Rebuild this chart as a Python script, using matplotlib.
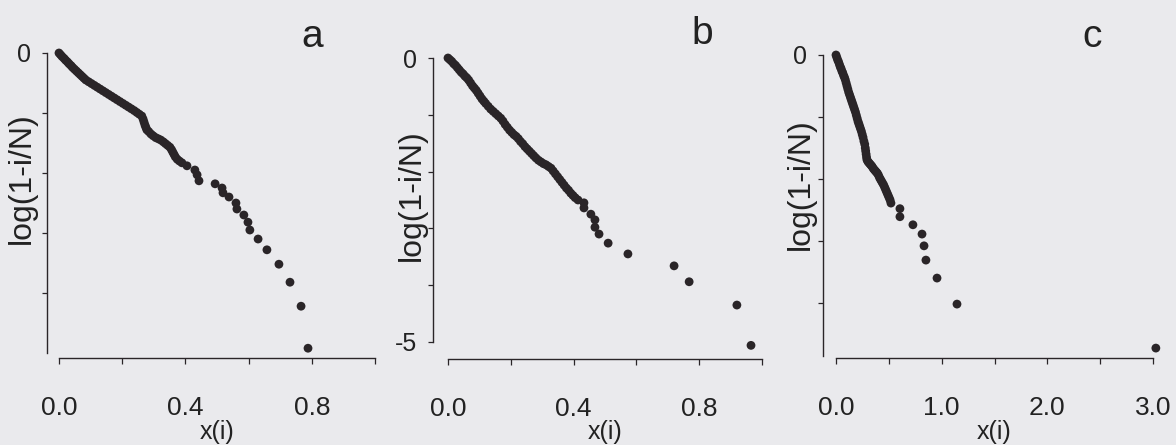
import matplotlib
matplotlib.use("Agg")
import matplotlib.pyplot as plt
import numpy as np

plt.rcParams['font.family'] = ['Liberation Sans', 'DejaVu Sans']

# panel a: x(i) and log(1-i/N)
x_a = [0.000, 0.005, 0.010, 0.016, 0.021, 0.027, 0.032, 0.038, 0.043, 0.049,
       0.055, 0.061, 0.067, 0.073, 0.079, 0.085,
       0.094, 0.103, 0.112, 0.121, 0.130, 0.139, 0.148, 0.157, 0.166, 0.175,
       0.184, 0.193, 0.202, 0.211, 0.220, 0.229, 0.238, 0.246, 0.254, 0.262,
       0.266, 0.269, 0.272, 0.275, 0.278,
       0.284, 0.291, 0.298, 0.306, 0.314, 0.322, 0.330, 0.337, 0.344, 0.351,
       0.356, 0.360, 0.364, 0.368, 0.374, 0.381,
       0.389, 0.405, 0.430, 0.437, 0.443, 0.494, 0.516, 0.519, 0.538, 0.560,
       0.563, 0.585, 0.598, 0.604, 0.630, 0.658, 0.696, 0.731, 0.766, 0.788]
y_a = [0.00, -0.03, -0.06, -0.09, -0.12, -0.15, -0.18, -0.21, -0.24, -0.27,
       -0.30, -0.33, -0.36, -0.39, -0.42, -0.45,
       -0.48, -0.51, -0.54, -0.57, -0.60, -0.63, -0.66, -0.69, -0.72, -0.75,
       -0.78, -0.81, -0.84, -0.87, -0.90, -0.93, -0.96, -0.99, -1.02, -1.05,
       -1.10, -1.15, -1.20, -1.24, -1.28,
       -1.31, -1.35, -1.38, -1.41, -1.43, -1.45, -1.48, -1.51, -1.54, -1.57,
       -1.61, -1.65, -1.69, -1.73, -1.77, -1.80,
       -1.83, -1.88, -1.95, -2.03, -2.13, -2.18, -2.25, -2.33, -2.40, -2.50,
       -2.60, -2.70, -2.82, -2.95, -3.10, -3.28, -3.52, -3.82, -4.22, -4.92]

# panel b
x_b = [0.000, 0.006, 0.012, 0.018, 0.024, 0.030, 0.036, 0.042, 0.048, 0.054,
       0.060, 0.066, 0.072, 0.078, 0.084, 0.090, 0.096, 0.102, 0.108, 0.114,
       0.120, 0.128, 0.136, 0.144, 0.152, 0.160, 0.168, 0.175, 0.182, 0.189,
       0.196, 0.203, 0.210, 0.217, 0.224, 0.231, 0.238, 0.245, 0.252, 0.259,
       0.266, 0.273, 0.280, 0.288, 0.296, 0.304, 0.312, 0.320, 0.328, 0.335,
       0.342, 0.349, 0.356, 0.363, 0.370, 0.377, 0.384, 0.391, 0.398, 0.405,
       0.414, 0.433, 0.433, 0.455, 0.468, 0.468, 0.481, 0.510, 0.573, 0.720,
       0.768, 0.920, 0.965]
y_b = [0.00, -0.03, -0.06, -0.10, -0.13, -0.17, -0.21, -0.25, -0.28, -0.32,
       -0.35, -0.39, -0.44, -0.49, -0.53, -0.57, -0.62, -0.67, -0.72, -0.76,
       -0.80, -0.85, -0.90, -0.94, -0.98, -1.02, -1.06, -1.11, -1.17, -1.22,
       -1.27, -1.31, -1.35, -1.38, -1.42, -1.47, -1.51, -1.56, -1.60, -1.64,
       -1.68, -1.72, -1.76, -1.80, -1.83, -1.86, -1.88, -1.91, -1.94, -1.99,
       -2.04, -2.09, -2.14, -2.19, -2.24, -2.29, -2.33, -2.38, -2.42, -2.46,
       -2.50, -2.55, -2.64, -2.75, -2.85, -2.98, -3.10, -3.26, -3.45, -3.66,
       -3.94, -4.35, -5.06]

# panel c
x_c = [0.000, 0.008, 0.016, 0.024, 0.032, 0.040, 0.048, 0.056, 0.064, 0.072,
       0.080, 0.088, 0.096, 0.104, 0.112, 0.120, 0.128, 0.136, 0.144, 0.152,
       0.160, 0.168, 0.176, 0.184, 0.192, 0.200, 0.208, 0.216, 0.224, 0.232,
       0.240, 0.248, 0.256, 0.264, 0.272, 0.277, 0.281, 0.285, 0.289, 0.293,
       0.302, 0.312, 0.322, 0.332, 0.342, 0.352, 0.362, 0.372, 0.382, 0.392,
       0.402, 0.412, 0.422, 0.432, 0.442, 0.452, 0.462, 0.472, 0.482, 0.492,
       0.502, 0.512, 0.520,
       0.605, 0.605, 0.728, 0.814, 0.833, 0.851, 0.956, 1.145, 3.027]
y_c = [0.00, -0.04, -0.08, -0.11, -0.15, -0.19, -0.22, -0.26, -0.29, -0.33,
       -0.36, -0.40, -0.45, -0.50, -0.55, -0.60, -0.64, -0.68, -0.72, -0.76,
       -0.80, -0.84, -0.88, -0.92, -0.97, -1.02, -1.07, -1.11, -1.15, -1.19,
       -1.23, -1.28, -1.33, -1.39, -1.44, -1.50, -1.55, -1.60, -1.65, -1.69,
       -1.72, -1.74, -1.76, -1.78, -1.80, -1.83, -1.85, -1.87, -1.89, -1.91,
       -1.94, -1.98, -2.01, -2.04, -2.07, -2.10, -2.14, -2.18, -2.22, -2.26,
       -2.30, -2.34, -2.39,
       -2.48, -2.61, -2.74, -2.89, -3.08, -3.31, -3.60, -4.02, -4.73]

letters = ['a', 'b', 'c']
xtick_vals = [[0, 0.2, 0.4, 0.6, 0.8, 1.0],
              [0, 0.2, 0.4, 0.6, 0.8, 1.0],
              [0, 0.5, 1.0, 1.5, 2.0, 2.5, 3.0]]
xtick_text = [['0.0', '', '0.4', '', '0.8', ''],
              ['0.0', '', '0.4', '', '0.8', ''],
              ['0.0', '', '1.0', '', '2.0', '', '3.0']]
ytick_vals = [[0, -1, -2, -3, -4],
              [0, -1, -2, -3, -4, -5],
              [0, -1, -2, -3, -4]]
ytick_text = [['0', '', '', '', ''],
              ['0', '', '', '', '', '-5'],
              ['0', '', '', '', '']]

W, H = 1176, 445
bg = '#eaeaed'
ink = '#2a2528'
fig = plt.figure(figsize=(W / 100, H / 100), dpi=100, facecolor=bg)

# layout in pixels: left, right, top, bottom, left spine offset, y bottom, spine end
boxes = [(59, 375, 53, 358, 12, -5.083, -5.0, 1.0),
         (448, 762, 58, 359, 15, -5.30, -5.0, 1.0),
         (836, 1153, 55, 358, 13, -4.89, -4.86, 3.0)]
ylab_pos = [(-0.117, 0.590), (-0.115, 0.545), (-0.110, 0.575)]
letter_pos = [(312, 47), (702, 44), (1092, 47)]
data = [(x_a, y_a), (x_b, y_b), (x_c, y_c)]

for k in range(3):
    l, r, t, b, off, ybot, yend, xmax = boxes[k]
    ax = fig.add_axes([l / W, 1 - b / H, (r - l) / W, (b - t) / H])
    ax.set_facecolor('none')
    xs, ys = data[k]
    ax.scatter(xs, ys, s=40, color=ink, edgecolors='none', clip_on=False,
               zorder=3)
    ax.set_xlim(0, xmax)
    ax.set_ylim(ybot, 0)
    for side in ['top', 'right']:
        ax.spines[side].set_visible(False)
    ax.spines['left'].set_position(('outward', off * 0.72))
    ax.spines['left'].set_bounds(yend, 0)
    ax.spines['bottom'].set_bounds(0, xmax)
    for side in ['left', 'bottom']:
        ax.spines[side].set_color(ink)
        ax.spines[side].set_linewidth(1.0)
    ax.set_xticks(xtick_vals[k])
    ax.set_xticklabels(xtick_text[k])
    ax.set_yticks(ytick_vals[k])
    ax.set_yticklabels(ytick_text[k])
    ax.tick_params(axis='x', length=4.3, width=0.9, color=ink, pad=23,
                   labelsize=19, labelcolor='#222222')
    ax.tick_params(axis='y', length=3.6, width=0.9, color=ink, pad=8,
                   labelsize=18, labelcolor='#222222')
    ax.set_xlabel('x(i)', fontsize=18, color='#222222', va='center')
    ax.xaxis.set_label_coords(0.5, -0.243)
    ax.set_ylabel('log(1-i/N)', fontsize=23, color='#222222',
                  va='center', ha='center')
    ax.yaxis.set_label_coords(*ylab_pos[k])
    lx, ly = letter_pos[k]
    fig.text(lx / W, 1 - ly / H, letters[k], fontsize=28, color='#222222',
             ha='center', va='baseline')

fig.savefig('out.png', dpi=100, facecolor=bg)
